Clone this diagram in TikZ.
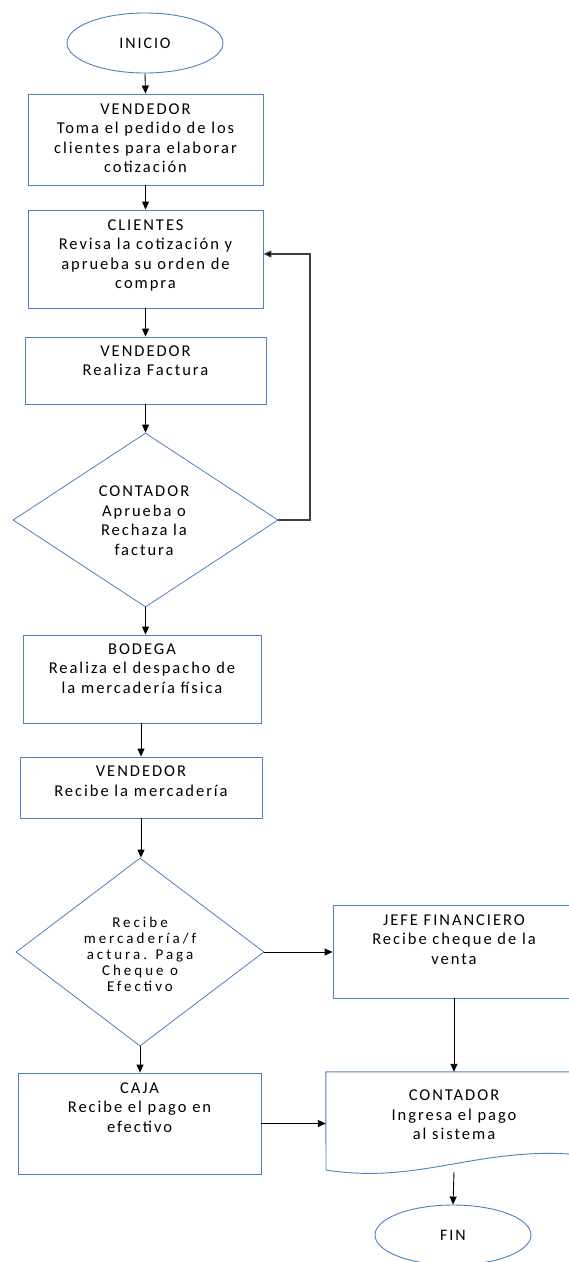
\documentclass[tikz,border=0pt]{standalone}
\usepackage{fontspec}
\setmainfont{Carlito}[LetterSpace=12]
\newfontfamily\smallspaced{Carlito}[LetterSpace=20]
\usetikzlibrary{arrows.meta,shapes.geometric,calc}
\definecolor{boxblue}{RGB}{79,129,189}
\definecolor{linegray}{RGB}{64,64,64}
\begin{document}
\begin{tikzpicture}[x=1pt,y=-1pt,
  box/.style={draw=boxblue,line width=0.9pt,rectangle,inner sep=0pt,fill=white},
  oval/.style={draw=boxblue,line width=0.9pt,ellipse,inner sep=0pt,minimum width=156pt,minimum height=60pt},
  decision/.style={draw=boxblue,line width=0.8pt,diamond,inner sep=0pt},
  txt/.style={align=center,inner sep=0pt,font=\fontsize{16.5}{19.5}\selectfont},
  smalltxt/.style={align=center,inner sep=0pt,font=\smallspaced\fontsize{15}{16}\selectfont},
  arr/.style={line width=0.9pt,draw=black,-{Triangle[length=8pt,width=7pt]}},
  fb/.style={line width=1.1pt,draw=linegray,-{Triangle[length=8pt,width=7pt,fill=black]}}
]
\useasboundingbox (0,0) rectangle (569,1262);
\clip (0,0) rectangle (569,1262);
\fill[white] (0,0) rectangle (569,1262);

% nodes
\node[oval,font=\fontsize{16}{19.5}\selectfont] (inicio) at (145,43) {INICIO};

\node[box,minimum width=235pt,minimum height=91pt] (b1) at (145.5,139.5) {};
\node[txt,anchor=north] (t1) at ($(b1.north)+(0,10)$) {VENDEDOR\\Toma el pedido de los\\clientes para elaborar\\cotización};

\node[box,minimum width=235pt,minimum height=98pt] (b2) at (145.5,259) {};
\node[txt,anchor=north] (t2) at ($(b2.north)+(0,10)$) {CLIENTES\\Revisa la cotización y\\aprueba su orden de\\compra};

\node[box,minimum width=241pt,minimum height=67pt] (b3) at (145.5,370.5) {};
\node[txt,anchor=north] (t3) at ($(b3.north)+(0,9)$) {VENDEDOR\\Realiza Factura};

\node[decision,minimum width=265pt,minimum height=174pt] (d1) at (145.5,520) {};
\node[txt,anchor=north] (t4) at (144,486) {CONTADOR\\Aprueba o\\Rechaza la\\factura};

\node[box,minimum width=238pt,minimum height=88pt] (b4) at (142,679) {};
\node[txt,anchor=north] (t5) at ($(b4.north)+(0,9)$) {BODEGA\\Realiza el despacho de\\la mercadería física};

\node[box,minimum width=242pt,minimum height=61pt] (b5) at (141,787.5) {};
\node[txt,anchor=north] (t6) at ($(b5.north)+(0,9.5)$) {VENDEDOR\\Recibe la mercadería};

\node[decision,minimum width=248pt,minimum height=188pt] (d2) at (140,952) {};
\node[smalltxt,anchor=north] (t7) at (140,917) {Recibe\\mercadería/f\\actura. Paga\\Cheque o\\Efectivo};

\node[box,minimum width=242pt,minimum height=93pt] (jefe) at (454,951.5) {};
\node[txt,anchor=north] (t8) at ($(jefe.north)+(0,10)$) {JEFE FINANCIERO\\Recibe cheque de la\\venta};

\node[box,minimum width=243pt,minimum height=101pt] (caja) at (139.5,1123.5) {};
\node[txt,anchor=north] (t9) at ($(caja.north)+(0,10)$) {CAJA\\Recibe el pago en\\efectivo};

% document shape
\node[inner sep=0pt,minimum width=256pt,minimum height=98pt] (doc) at (454,1121) {};
\draw[draw=boxblue,line width=0.9pt,fill=white]
  (doc.north west) -- (doc.north east) -- (582,1155)
  .. controls (480,1145) and (420,1185) .. (326,1170) -- cycle;
\node[txt,anchor=north] (t10) at ($(doc.north)+(0,18)$) {CONTADOR\\Ingresa el pago\\al sistema};
\coordinate (docb) at (454,1172);

\node[oval,font=\fontsize{16}{19.5}\selectfont] (fin) at (453,1235) {FIN};

% connectors
\draw[arr] (inicio.south) -- (b1.north);
\draw[arr] (b1.south) -- (b2.north);
\draw[arr] (b2.south) -- (b3.north);
\draw[arr] (b3.south) -- (d1.north);
\draw[arr] (d1.south) -- (d1.south |- b4.north);
\draw[arr] (b4.south -| b5.north) -- (b5.north);
\draw[arr] (b5.south) -- (b5.south |- d2.north);
\draw[arr] (d2.east) -- (d2.east -| jefe.west);
\draw[arr] (d2.south) -- (d2.south |- caja.north);
\draw[arr] (jefe.south) -- (doc.north);
\draw[arr] (caja.east) -- (caja.east -| doc.west);
\draw[arr] (docb) -- (fin.north);
\draw[fb] (d1.east) -- (310,520) -- (310,254) -- (b2.east |- 0,254);
\end{tikzpicture}
\end{document}
